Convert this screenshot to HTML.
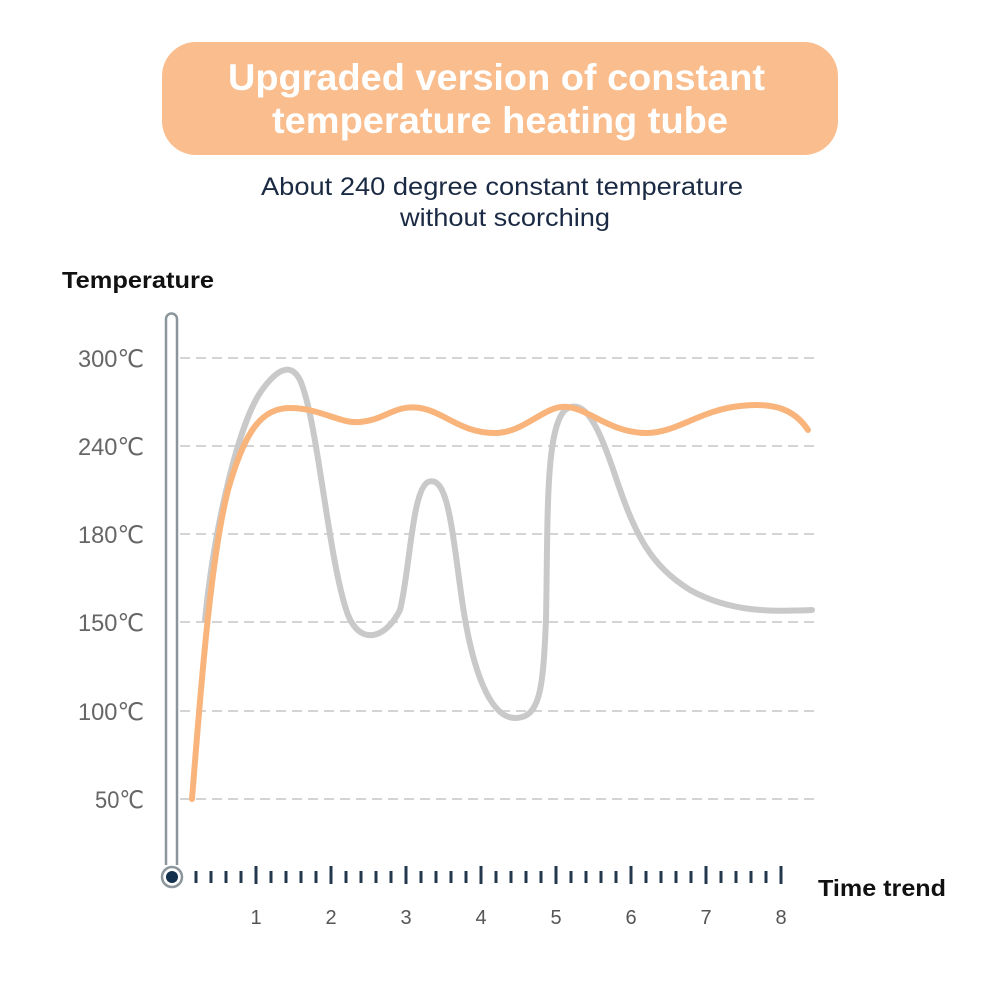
<!DOCTYPE html>
<html><head><style>
body{margin:0;background:#fff;}
svg{display:block;}
</style></head><body>
<svg width="1001" height="1001" viewBox="0 0 1001 1001" xmlns="http://www.w3.org/2000/svg">
<rect width="1001" height="1001" fill="#fff"/>
<rect x="162" y="42" width="676" height="113" rx="34" fill="#f9bd8e"/>
<g font-family="Liberation Sans, sans-serif" font-weight="bold" font-size="37" fill="#fff">
<text x="228" y="90" textLength="537" lengthAdjust="spacingAndGlyphs">Upgraded version of constant</text>
<text x="272" y="133" textLength="456" lengthAdjust="spacingAndGlyphs">temperature heating tube</text>
</g>
<g font-family="Liberation Sans, sans-serif" font-size="25" fill="#1b2a44">
<text x="261" y="195" textLength="482" lengthAdjust="spacingAndGlyphs">About 240 degree constant temperature</text>
<text x="400" y="226" textLength="210" lengthAdjust="spacingAndGlyphs">without scorching</text>
</g>
<text x="62" y="288" font-family="Liberation Sans, sans-serif" font-weight="bold" font-size="23" fill="#111" textLength="152" lengthAdjust="spacingAndGlyphs">Temperature</text>
<text x="818" y="896" font-family="Liberation Sans, sans-serif" font-weight="bold" font-size="23" fill="#111" textLength="128" lengthAdjust="spacingAndGlyphs">Time trend</text>
<g stroke="#d4d4d4" stroke-width="2" stroke-dasharray="10,6">
<line x1="180" y1="358" x2="816" y2="358"/>
<line x1="180" y1="446" x2="816" y2="446"/>
<line x1="180" y1="534" x2="816" y2="534"/>
<line x1="180" y1="622" x2="816" y2="622"/>
<line x1="180" y1="711" x2="816" y2="711"/>
<line x1="180" y1="799" x2="816" y2="799"/>
</g>
<g font-family="Liberation Sans, sans-serif" font-size="24" fill="#666">
<text x="78" y="367" textLength="66" lengthAdjust="spacingAndGlyphs">300℃</text>
<text x="78" y="455" textLength="66" lengthAdjust="spacingAndGlyphs">240℃</text>
<text x="78" y="543" textLength="66" lengthAdjust="spacingAndGlyphs">180℃</text>
<text x="78" y="631" textLength="66" lengthAdjust="spacingAndGlyphs">150℃</text>
<text x="78" y="720" textLength="66" lengthAdjust="spacingAndGlyphs">100℃</text>
<text x="95" y="808" textLength="49" lengthAdjust="spacingAndGlyphs">50℃</text>
</g>
<path d="M166,865 L166,319 A5.5,5.5 0 0 1 177,319 L177,865" fill="none" stroke="#8a969c" stroke-width="2.5"/>
<circle cx="172" cy="877" r="10" fill="#fff" stroke="#8a969c" stroke-width="2.5"/>
<circle cx="172" cy="877" r="6" fill="#13304d"/>
<g stroke="#24384d" stroke-width="3">
<line x1="196" y1="871" x2="196" y2="883"/><line x1="211" y1="871" x2="211" y2="883"/><line x1="226" y1="871" x2="226" y2="883"/><line x1="241" y1="871" x2="241" y2="883"/>
<line x1="256" y1="866" x2="256" y2="884"/>
<line x1="271" y1="871" x2="271" y2="883"/><line x1="286" y1="871" x2="286" y2="883"/><line x1="301" y1="871" x2="301" y2="883"/><line x1="316" y1="871" x2="316" y2="883"/>
<line x1="331" y1="866" x2="331" y2="884"/>
<line x1="346" y1="871" x2="346" y2="883"/><line x1="361" y1="871" x2="361" y2="883"/><line x1="376" y1="871" x2="376" y2="883"/><line x1="391" y1="871" x2="391" y2="883"/>
<line x1="406" y1="866" x2="406" y2="884"/>
<line x1="421" y1="871" x2="421" y2="883"/><line x1="436" y1="871" x2="436" y2="883"/><line x1="451" y1="871" x2="451" y2="883"/><line x1="466" y1="871" x2="466" y2="883"/>
<line x1="481" y1="866" x2="481" y2="884"/>
<line x1="496" y1="871" x2="496" y2="883"/><line x1="511" y1="871" x2="511" y2="883"/><line x1="526" y1="871" x2="526" y2="883"/><line x1="541" y1="871" x2="541" y2="883"/>
<line x1="556" y1="866" x2="556" y2="884"/>
<line x1="571" y1="871" x2="571" y2="883"/><line x1="586" y1="871" x2="586" y2="883"/><line x1="601" y1="871" x2="601" y2="883"/><line x1="616" y1="871" x2="616" y2="883"/>
<line x1="631" y1="866" x2="631" y2="884"/>
<line x1="646" y1="871" x2="646" y2="883"/><line x1="661" y1="871" x2="661" y2="883"/><line x1="676" y1="871" x2="676" y2="883"/><line x1="691" y1="871" x2="691" y2="883"/>
<line x1="706" y1="866" x2="706" y2="884"/>
<line x1="721" y1="871" x2="721" y2="883"/><line x1="736" y1="871" x2="736" y2="883"/><line x1="751" y1="871" x2="751" y2="883"/><line x1="766" y1="871" x2="766" y2="883"/>
<line x1="781" y1="866" x2="781" y2="884"/>
</g>
<g font-family="Liberation Sans, sans-serif" font-size="20" fill="#555" text-anchor="middle">
<text x="256" y="924">1</text><text x="331" y="924">2</text><text x="406" y="924">3</text><text x="481" y="924">4</text>
<text x="556" y="924">5</text><text x="631" y="924">6</text><text x="706" y="924">7</text><text x="781" y="924">8</text>
</g>
<path d="M205,620 C215,520 240,420 262,390 C275,372 290,360 300,380 C318,420 328,560 348,615 C360,645 385,640 400,610 C410,570 412,490 428,482 C448,474 452,530 462,600 C472,670 490,718 515,718 C540,718 543,690 546,620 C548,520 545,430 565,410 C585,395 600,430 615,475 C635,535 650,565 690,590 C730,612 770,612 812,610" fill="none" stroke="#c9c9c9" stroke-width="6" stroke-linecap="round"/>
<path d="M192,799 C200,700 210,560 228,490 C245,430 262,408 290,408 C320,408 340,424 360,422 C385,420 395,404 420,408 C445,412 460,433 495,433 C525,433 545,404 568,407 C590,410 610,432 645,433 C675,434 700,410 740,406 C775,402 795,410 808,430" fill="none" stroke="#f9b47b" stroke-width="6" stroke-linecap="round"/>
</svg>
</body></html>
